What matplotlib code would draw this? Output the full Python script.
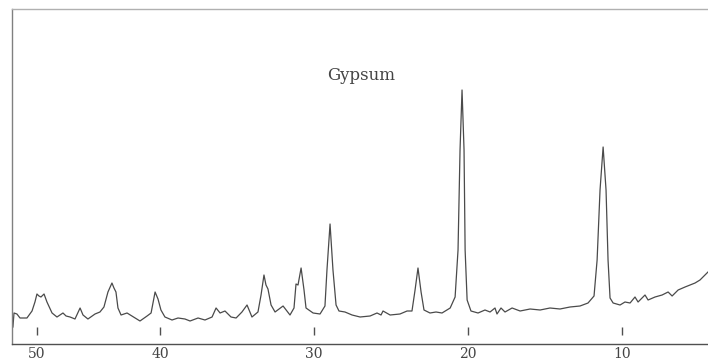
import matplotlib
matplotlib.use("Agg")
import matplotlib.pyplot as plt

# X-ray diffraction trace of gypsum (2-theta, arbitrary intensity)
two_theta = [49.55, 49.48, 49.29, 49.09, 48.64, 48.31, 48.12, 47.99, 47.86, 47.73,
             47.53, 47.34, 47.01, 46.69, 46.30, 46.10, 45.84, 45.52, 45.19, 45.00,
             44.68, 44.22, 43.90, 43.64, 43.38, 43.12, 42.99, 42.86, 42.73, 42.53,
             42.14, 41.62, 41.30, 40.84, 40.58, 40.32, 40.13, 39.94, 39.68, 39.22,
             38.83, 38.38, 38.05, 37.53, 37.08, 36.62, 36.36, 36.10, 35.78, 35.39,
             35.06, 34.68, 34.35, 34.03, 33.64, 33.44, 33.25, 33.12, 32.99, 32.79,
             32.53, 32.01, 31.56, 31.30, 31.17, 31.04, 30.84, 30.65, 30.52, 30.06,
             29.61, 29.29, 29.16, 28.96, 28.77, 28.57, 28.38, 27.99, 27.53, 27.01,
             26.36, 25.91, 25.65, 25.52, 25.06, 24.42, 23.96, 23.64, 23.44, 23.25,
             23.05, 22.86, 22.47, 22.08, 21.69, 21.16, 20.84, 20.65, 20.52, 20.39,
             20.26, 20.19, 20.06, 19.81, 19.35, 18.90, 18.57, 18.25, 18.12, 17.86,
             17.60, 17.14, 16.62, 15.97, 15.32, 14.68, 14.03, 13.38, 12.73, 12.21,
             11.82, 11.62, 11.43, 11.23, 11.04, 10.91, 10.78, 10.58, 10.13, 9.81,
             9.48, 9.16, 8.96, 8.51, 8.31, 7.86, 7.40, 7.01, 6.75, 6.36,
             5.91, 5.58, 5.26, 4.94, 4.61, 4.42]
intensity = [17, 31, 30, 26, 26, 33, 42, 50, 48, 47,
             50, 42, 31, 27, 31, 28, 27, 25, 36, 29,
             25, 30, 32, 37, 52, 61, 56, 52, 36, 29,
             31, 26, 23, 28, 31, 52, 45, 34, 27, 24,
             26, 25, 23, 26, 24, 27, 36, 31, 33, 27,
             26, 32, 39, 27, 32, 49, 69, 59, 55, 39,
             32, 38, 29, 36, 60, 59, 76, 54, 36, 31,
             30, 38, 74, 120, 74, 39, 33, 32, 29, 27,
             28, 31, 29, 33, 29, 30, 33, 33, 54, 76,
             52, 34, 31, 32, 31, 36, 47, 94, 194, 254,
             194, 94, 44, 33, 31, 34, 32, 36, 30, 36,
             32, 36, 33, 35, 34, 36, 35, 37, 38, 41,
             48, 84, 154, 197, 154, 84, 46, 41, 39, 42,
             41, 47, 42, 49, 44, 47, 49, 52, 48, 54,
             57, 59, 61, 64, 69, 72]

# tick marks as printed on the scan
tick_pos = [48.0, 40.0, 30.0, 20.0, 10.0]
tick_labels = ["50", "40", "30", "20", "10"]

fig = plt.figure(figsize=(7.08, 3.64), dpi=100)
ax = fig.add_axes([12 / 708, 20 / 364, 696 / 708, 335 / 364])

ax.plot(two_theta, intensity, color="#4a4a4a", lw=0.9)

ax.set_xlim(49.61, 4.42)
ax.set_ylim(0, 335)

# style of the old chart-recorder printout
ax.spines["right"].set_visible(False)
ax.spines["top"].set_color("#b0b0b0")
ax.spines["left"].set_color("#808080")
ax.spines["bottom"].set_color("#505050")
for s in ["top", "left", "bottom"]:
    ax.spines[s].set_linewidth(1.0)

ax.set_yticks([])
ax.set_xticks(tick_pos)
ax.set_xticklabels(tick_labels, family="DejaVu Serif", fontsize=10, color="#444444")
ax.tick_params(axis="x", length=0, pad=2)

# short floating tick marks above the axis line
ax.vlines(tick_pos, 9, 17, color="#505050", lw=1.0)

ax.text(26.95, 269, "Gypsum", family="DejaVu Serif", fontsize=12,
        color="#444444", ha="center", va="center")

fig.savefig("out.png", dpi=100)
